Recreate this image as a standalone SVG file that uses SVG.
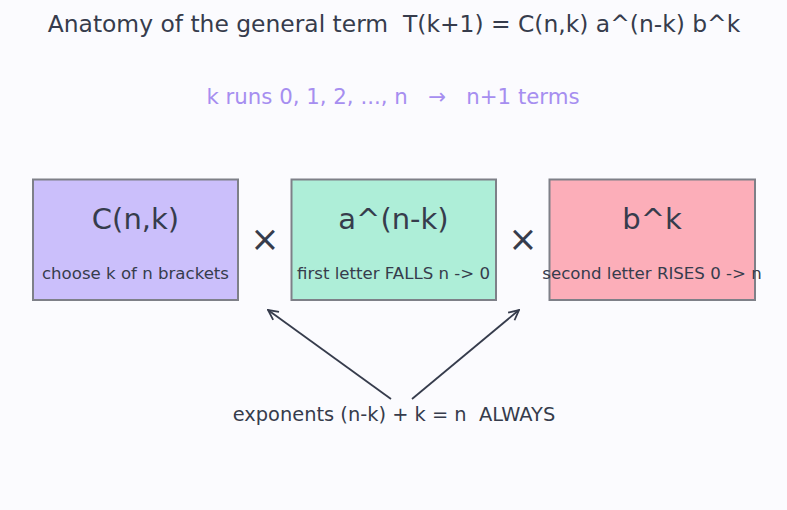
<svg xmlns="http://www.w3.org/2000/svg" width="787" height="510" viewBox="0 0 787 510">
<defs>
<style>
text{font-family:"DejaVu Sans","Liberation Sans",sans-serif;fill:#363c4c;text-anchor:middle;white-space:pre}
.box{stroke:#7e8088;stroke-width:2}
.t{font-size:29px}
.s{font-size:16.6px}
.x{font-size:35px}
.conn{stroke:#363c4c;stroke-width:1.8;fill:none;marker-end:url(#ah)}
</style>
<marker id="ah" viewBox="0 0 12 12" refX="11" refY="6" markerWidth="12" markerHeight="12" markerUnits="userSpaceOnUse" orient="auto">
<path d="M1,1 L11,6 L1,11" fill="none" stroke="#363c4c" stroke-width="1.8"/>
</marker>
</defs>
<rect width="787" height="510" fill="#fbfbfe"/>
<text x="394" y="32" style="font-size:23.4px" xml:space="preserve">Anatomy of the general term  T(k+1) = C(n,k) a^(n-k) b^k</text>
<text x="393" y="104" style="font-size:21.3px;fill:#a68ef0" xml:space="preserve">k runs 0, 1, 2, ..., n   →   n+1 terms</text>
<g id="node-c">
<rect class="box" x="33" y="179.500" width="205" height="120.500" fill="#cbbffb"/>
<text class="t" x="135.500" y="229">C(n,k)</text>
<text class="s" x="135.500" y="279">choose k of n brackets</text>
</g>
<text class="x" x="265" y="251">×</text>
<g id="node-a">
<rect class="box" x="291.500" y="179.500" width="204.500" height="120.500" fill="#aeeed8"/>
<text class="t" x="393.500" y="229">a^(n-k)</text>
<text class="s" x="393.500" y="279">first letter FALLS n -&gt; 0</text>
</g>
<text class="x" x="523" y="251">×</text>
<g id="node-b">
<rect class="box" x="549.500" y="179.500" width="205.500" height="120.500" fill="#fcaeb9"/>
<text class="t" x="652" y="229">b^k</text>
<text class="s" x="652" y="279">second letter RISES 0 -&gt; n</text>
</g>
<g id="connectors">
<line class="conn" x1="391" y1="399" x2="268" y2="310"/>
<line class="conn" x1="412" y1="399" x2="519" y2="310"/>
</g>
<text x="394" y="421" style="font-size:19.4px" xml:space="preserve">exponents (n-k) + k = n  ALWAYS</text>
</svg>
